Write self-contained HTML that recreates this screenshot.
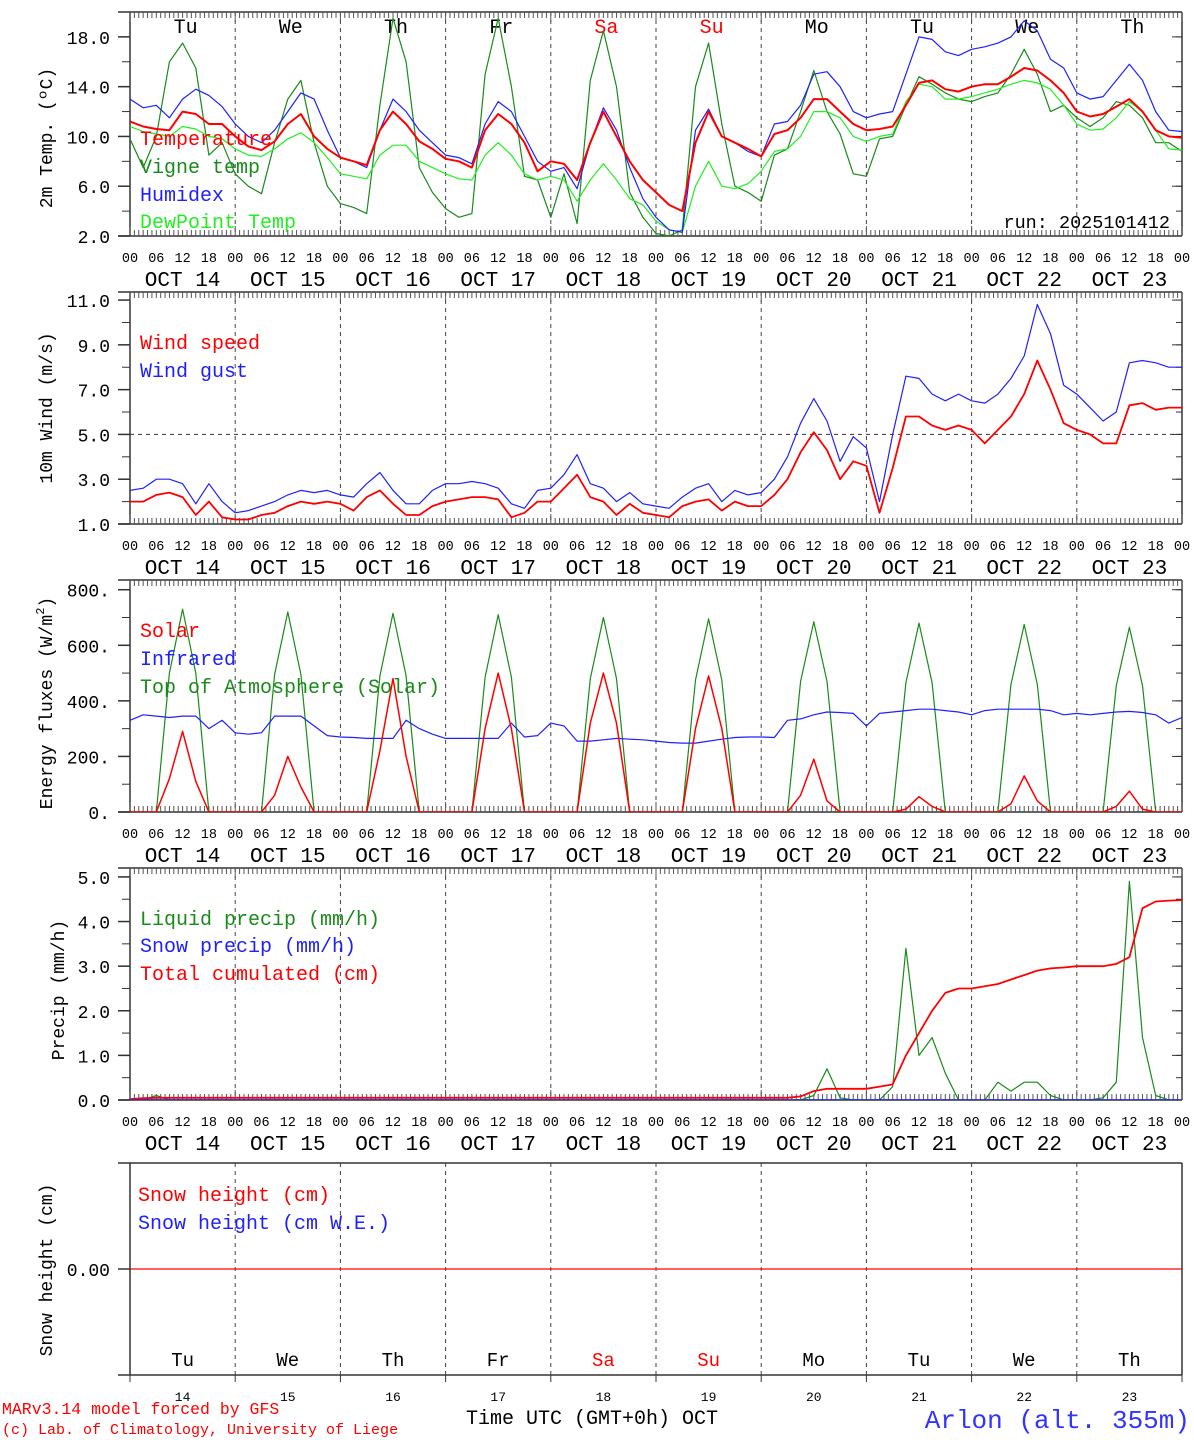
<!DOCTYPE html>
<html><head><meta charset="utf-8"><style>
html,body{margin:0;padding:0;background:#fff;}
svg{display:block;font-family:"Liberation Mono",monospace;}
</style></head><body>
<svg id="chart" width="1194" height="1440" viewBox="0 0 1194 1440" xmlns="http://www.w3.org/2000/svg"></svg>
<script>
// ---- data (3-hourly, 0..240h from Oct 14 00 UTC) ----
const days = ["14","15","16","17","18","19","20","21","22","23"];
const dayNames = ["Tu","We","Th","Fr","Sa","Su","Mo","Tu","We","Th"];
const dayColors = ["#000","#000","#000","#000","#f00","#f00","#000","#000","#000","#000"];
const hourLabels = ["00","06","12","18"];
const tempTicks = [2,6,10,14,18];
const windTicks = [1,3,5,7,9,11];
const fluxTicks = [0,200,400,600,800];
const fluxTickLabels = ["0.","200.","400.","600.","800."];
const precipTicks = [0,1,2,3,4,5];

const temperature = [11.2,10.8,10.6,10.5,12.0,11.8,11.0,11.0, 10.0,9.2,8.9,9.6,11.0,11.8,10.0,9.0, 8.3,8.0,7.7,10.5,12.0,11.0,9.6,9.0, 8.2,8.0,7.5,10.5,11.8,11.0,9.5,7.2, 8.0,7.8,6.5,9.5,12.0,10.0,8.0,6.5, 5.5,4.5,4.0,9.5,12.0,10.0,9.5,9.0, 8.4,10.2,10.5,11.5,13.0,13.0,12.0,11.0, 10.5,10.6,10.8,12.5,14.3,14.5,13.8,13.6, 14.0,14.2,14.2,14.8,15.5,15.3,14.5,13.5, 12.0,11.6,11.8,12.4,13.0,12.0,10.5,10.0,9.9];
const humidex = [13.0,12.3,12.5,11.5,13.0,13.8,13.3,12.4, 11.0,10.0,9.5,10.5,12.0,13.5,13.0,10.5, 8.3,8.0,7.5,10.5,13.0,12.0,10.5,9.5, 8.5,8.3,7.8,11.0,12.8,12.0,10.0,8.0, 7.2,7.5,5.8,9.5,12.3,10.5,7.5,5.0, 3.5,2.5,2.3,10.5,12.2,10.0,9.5,8.8, 8.4,11.0,11.2,12.5,15.0,15.2,14.0,12.0, 11.5,11.8,12.0,15.0,18.0,17.8,16.8,16.5, 17.0,17.2,17.5,18.0,19.3,18.5,16.2,15.5, 13.5,13.0,13.2,14.5,15.8,14.5,12.0,10.5,10.4];
const dewpoint = [10.8,10.4,10.2,10.0,10.8,10.6,10.0,9.8, 9.0,8.5,8.4,9.0,9.8,10.3,9.5,8.3, 7.0,6.8,6.6,8.5,9.3,9.3,8.0,7.5, 7.0,6.6,6.5,8.5,9.5,8.5,7.0,6.5, 6.8,6.5,4.8,6.5,7.8,6.5,5.0,4.5, 3.2,2.5,2.3,6.0,8.0,6.0,5.8,6.2, 7.2,8.8,9.0,10.0,12.0,12.0,11.5,10.0, 9.6,10.0,10.2,12.8,14.2,14.0,13.0,13.0, 13.2,13.5,13.8,14.2,14.5,14.3,13.8,12.5, 11.0,10.5,10.6,11.5,12.8,12.0,10.5,9.0,8.9];
const vigne = [9.8,7.5,10.0,16.0,17.5,15.5,8.5,9.5, 7.0,6.0,5.4,9.5,13.0,14.5,9.5,6.0, 4.6,4.3,3.8,12.5,19.5,16.0,7.5,5.5, 4.2,3.5,3.8,15.0,19.5,14.0,6.8,6.5, 3.5,7.0,3.0,14.5,18.5,14.0,5.5,3.5, 2.2,2.0,2.5,14.0,17.5,11.0,6.0,5.5, 4.8,8.5,9.0,12.0,15.3,12.0,10.2,7.0, 6.8,9.8,10.0,12.5,14.8,14.2,13.5,13.0, 12.8,13.2,13.5,15.0,17.0,15.0,12.0,12.5, 11.5,10.8,11.5,12.8,12.5,11.5,9.5,9.5,8.8];

const windSpeed = [2.0,2.0,2.3,2.4,2.2,1.4,2.0,1.3, 1.2,1.2,1.4,1.5,1.8,2.0,1.9,2.0, 1.9,1.6,2.2,2.5,1.9,1.4,1.4,1.8, 2.0,2.1,2.2,2.2,2.1,1.3,1.5,2.0, 2.0,2.6,3.2,2.2,2.0,1.4,1.9,1.5, 1.4,1.3,1.8,2.0,2.1,1.6,2.0,1.8, 1.8,2.3,3.0,4.2,5.1,4.3,3.0,3.8, 3.6,1.5,3.5,5.8,5.8,5.4,5.2,5.4, 5.2,4.6,5.2,5.8,6.8,8.3,7.0,5.5, 5.2,5.0,4.6,4.6,6.3,6.4,6.1,6.2,6.2];
const windGust = [2.5,2.6,3.0,3.0,2.8,1.9,2.8,2.0, 1.5,1.6,1.8,2.0,2.3,2.5,2.4,2.5, 2.3,2.2,2.8,3.3,2.5,1.9,1.9,2.5, 2.8,2.8,2.9,2.8,2.6,1.9,1.7,2.5, 2.6,3.2,4.1,2.8,2.6,2.0,2.4,1.9, 1.8,1.7,2.2,2.6,2.8,2.0,2.5,2.3, 2.4,3.0,4.0,5.5,6.6,5.6,3.8,4.9, 4.4,2.0,5.0,7.6,7.5,6.8,6.5,6.8, 6.5,6.4,6.8,7.5,8.5,10.8,9.5,7.2, 6.8,6.2,5.6,6.0,8.2,8.3,8.2,8.0,8.0];

const solar = [0,0,0,120,290,110,0,0, 0,0,0,60,200,90,0,0, 0,0,0,220,480,200,0,0, 0,0,0,300,500,300,0,0, 0,0,0,320,500,320,0,0, 0,0,0,300,490,300,0,0, 0,0,0,60,190,40,0,0, 0,0,0,10,55,20,0,0, 0,0,0,30,130,40,0,0, 0,0,0,20,75,10,0,0,0];
const infrared = [330,350,345,340,345,345,300,330, 285,280,285,345,345,345,310,275, 270,268,265,265,265,330,300,280, 265,265,265,265,265,320,270,275, 320,310,255,255,260,265,262,260, 255,250,248,248,255,262,268,270, 270,268,330,335,350,360,358,355, 310,355,360,365,370,370,365,360, 350,365,370,370,370,370,365,350, 355,350,355,360,362,358,350,320,340];
const toa = [0,0,0,500,730,500,0,0, 0,0,0,495,720,495,0,0, 0,0,0,490,715,490,0,0, 0,0,0,485,710,485,0,0, 0,0,0,480,700,480,0,0, 0,0,0,475,695,475,0,0, 0,0,0,470,685,470,0,0, 0,0,0,465,680,465,0,0, 0,0,0,460,675,460,0,0, 0,0,0,455,665,455,0,0,0];

const liquid = [0,0,0.1,0,0,0,0,0, 0,0,0,0,0,0,0,0, 0,0,0,0,0,0,0,0, 0,0,0,0,0,0,0,0, 0,0,0,0,0,0,0,0, 0,0,0,0,0,0,0,0, 0,0,0,0,0.1,0.7,0.05,0, 0,0,0.3,3.4,1.0,1.4,0.6,0, 0,0,0.4,0.2,0.4,0.4,0.1,0, 0,0,0.05,0.4,4.9,1.4,0.1,0,0];
const snowPrecip = [0,0,0,0,0,0,0,0, 0,0,0,0,0,0,0,0, 0,0,0,0,0,0,0,0, 0,0,0,0,0,0,0,0, 0,0,0,0,0,0,0,0, 0,0,0,0,0,0,0,0, 0,0,0,0,0,0,0,0, 0,0,0,0,0,0,0,0, 0,0,0,0,0,0,0,0, 0,0,0,0,0,0,0,0,0];
const cumul = [0.02,0.04,0.05,0.05,0.05,0.05,0.05,0.05, 0.05,0.05,0.05,0.05,0.05,0.05,0.05,0.05, 0.05,0.05,0.05,0.05,0.05,0.05,0.05,0.05, 0.05,0.05,0.05,0.05,0.05,0.05,0.05,0.05, 0.05,0.05,0.05,0.05,0.05,0.05,0.05,0.05, 0.05,0.05,0.05,0.05,0.05,0.05,0.05,0.05, 0.05,0.05,0.05,0.08,0.2,0.25,0.25,0.25, 0.25,0.3,0.35,1.0,1.5,2.0,2.4,2.5, 2.5,2.55,2.6,2.7,2.8,2.9,2.95,2.97, 3.0,3.0,3.0,3.05,3.2,4.3,4.45,4.47,4.48];
const snowHeight = [0,0,0,0,0,0,0,0,0,0,0,0,0,0,0,0,0,0,0,0,0,0,0,0,0,0,0,0,0,0,0,0,0,0,0,0,0,0,0,0,0,0,0,0,0,0,0,0,0,0,0,0,0,0,0,0,0,0,0,0,0,0,0,0,0,0,0,0,0,0,0,0,0,0,0,0,0,0,0,0,0];

// ---- drawing ----
const svg = document.getElementById('chart');
const NS = 'http://www.w3.org/2000/svg';
const X0 = 130, X1 = 1182, DAYW = (X1 - X0) / 10;
function xh(h){ return X0 + h * (X1 - X0) / 240; }
function mk(tag, attrs, parent){ const e = document.createElementNS(NS, tag); for (const k in attrs) e.setAttribute(k, attrs[k]); (parent||svg).appendChild(e); return e; }
function txt(s, x, y, size, fill, anchor, parent){ const t = mk('text', {x:x, y:y, 'font-size':size, fill:fill||'#000', 'text-anchor':anchor||'start'}, parent); t.textContent = s; return t; }

function panel(name, top, bottom, vmin, vmax, ticks, tickLabels, minorStep, hourTicks){
  const g = mk('g', {});
  
  
  const y = v => bottom - (v - vmin) / (vmax - vmin) * (bottom - top);
  mk('line', {x1:118, y1:top, x2:X1, y2:top, stroke:'#333', 'stroke-width':1.5}, g);
  mk('line', {x1:118, y1:bottom, x2:X1, y2:bottom, stroke:'#333', 'stroke-width':1.5}, g);
  mk('line', {x1:X0, y1:top, x2:X0, y2:bottom, stroke:'#333', 'stroke-width':1.5}, g);
  mk('line', {x1:X1, y1:top, x2:X1, y2:bottom, stroke:'#333', 'stroke-width':1.5}, g);
  for (let d = 1; d < 10; d++){
    const dl = mk('line', {x1:X0+d*DAYW, y1:top, x2:X0+d*DAYW, y2:bottom, stroke:'#444', 'stroke-width':1, 'stroke-dasharray':'4,4'}, g);
    
    
  }
  if (hourTicks){
    for (let h = 0; h <= 240; h++){
      const len = (h % 24 === 0) ? 10 : 6;
      mk('line', {x1:xh(h), y1:top, x2:xh(h), y2:top+len, stroke:'#555', 'stroke-width':1}, g);
      mk('line', {x1:xh(h), y1:bottom, x2:xh(h), y2:bottom-len, stroke:'#555', 'stroke-width':1}, g);
    }
    for (let d = 0; d <= 10; d++){
      for (let i = 0; i < 4; i++){
        if (d === 10 && i > 0) break;
        const t = txt(hourLabels[i], xh(d*24 + i*6), bottom + 26, 13.5, '#000', 'middle', g);
        
        
      }
    }
    for (let d = 0; d < 10; d++){
      const t = txt('OCT ' + days[d], X0 + d*DAYW + DAYW/2, bottom + 50, 21, '#000', 'middle', g);
      
      
    }
  }
  if (minorStep){
    for (let v = vmin; v <= vmax + 1e-6; v += minorStep){
      mk('line', {x1:122, y1:y(v), x2:X0, y2:y(v), stroke:'#333', 'stroke-width':1}, g);
      mk('line', {x1:X1-6, y1:y(v), x2:X1, y2:y(v), stroke:'#333', 'stroke-width':1}, g);
    }
  }
  ticks.forEach((v, i) => {
    mk('line', {x1:118, y1:y(v), x2:X0, y2:y(v), stroke:'#333', 'stroke-width':1.5}, g);
    mk('line', {x1:X1-10, y1:y(v), x2:X1, y2:y(v), stroke:'#333', 'stroke-width':1}, g);
    const t = txt(tickLabels[i], 110, y(v) + 7, 18, '#000', 'end', g);
    
    
  });
  return {g:g, y:y, top:top, bottom:bottom};
}

function series(p, arr, color, width, name){
  const clip = 'clip-' + name;
  const cp = mk('clipPath', {id:clip}, p.g);
  mk('rect', {x:X0, y:p.top, width:X1-X0, height:p.bottom-p.top}, cp);
  const pts = arr.map((v, i) => xh(i*3).toFixed(1) + ',' + p.y(v).toFixed(1)).join(' ');
  const pl = mk('polyline', {points:pts, fill:'none', stroke:color, 'stroke-width':width, 'stroke-linejoin':'round', 'clip-path':'url(#'+clip+')'}, p.g);
  
  
}
function legend(p, s, x, y, color){
  const t = txt(s, x, y, 20, color, 'start', p.g);
  
  
}
function ytitle(s, x, y){
  const t = mk('text', {x:0, y:0, 'font-size':18, 'text-anchor':'middle', transform:'translate('+x+','+y+') rotate(-90)'});
  t.textContent = s;
  
  
  return t;
}

// Panel 1: temperature
const p1 = panel('temperature-panel', 12, 236, 2, 20.0, tempTicks, tempTicks.map(v => v.toFixed(1)), 2, true);
for (let d = 0; d < 10; d++){
  const t = txt(dayNames[d], X0 + d*DAYW + DAYW/2 + 3, 33, 20, dayColors[d], 'middle', p1.g);
  
  
}
series(p1, vigne, '#1a8a1a', 1.2, 'vigne-temp-line');
series(p1, dewpoint, '#22ee22', 1.2, 'dewpoint-line');
series(p1, humidex, '#2020ff', 1.2, 'humidex-line');
series(p1, temperature, '#ff0000', 2, 'temperature-line');
legend(p1, 'Temperature', 140, 145, '#ff0000');
legend(p1, 'Vigne temp', 140, 173, '#1a8a1a');
legend(p1, 'Humidex', 140, 201, '#2020ff');
legend(p1, 'DewPoint Temp', 140, 228, '#22ee22');
const run = txt('run: 2025101412', 1170, 228, 18.5, '#000', 'end', p1.g);
 
ytitle('2m Temp. (ºC)', 52, 138);

// Panel 2: wind
const p2 = panel('wind-panel', 292, 524, 1, 11.36, windTicks, windTicks.map(v => v.toFixed(1)), 1, true);
const ref = mk('line', {x1:X0, y1:p2.y(5), x2:X1, y2:p2.y(5), stroke:'#333', 'stroke-width':1, 'stroke-dasharray':'4,4'}, p2.g);
 
series(p2, windGust, '#2020ff', 1.2, 'wind-gust-line');
series(p2, windSpeed, '#ff0000', 1.8, 'wind-speed-line');
legend(p2, 'Wind speed', 140, 349, '#ff0000');
legend(p2, 'Wind gust', 140, 377, '#2020ff');
ytitle('10m Wind (m/s)', 52, 408);

// Panel 3: energy
const p3 = panel('energy-panel', 580, 812, 0, 835, fluxTicks, fluxTickLabels, 100, true);
series(p3, toa, '#1a8a1a', 1.2, 'toa-solar-line');
series(p3, infrared, '#2020ff', 1.2, 'infrared-line');
series(p3, solar, '#ff0000', 1.5, 'solar-line');
legend(p3, 'Solar', 140, 637, '#ff0000');
legend(p3, 'Infrared', 140, 665, '#2020ff');
legend(p3, 'Top of Atmosphere (Solar)', 140, 693, '#1a8a1a');
const et = ytitle('Energy fluxes (W/m', 52, 703);
const sup = mk('tspan', {'font-size':12, dy:-8}, et); sup.textContent = '2';
const cl = mk('tspan', {dy:8}, et); cl.textContent = ')';

// Panel 4: precip
const p4 = panel('precip-panel', 868, 1100, 0, 5.2, precipTicks, precipTicks.map(v => v.toFixed(1)), 0.5, true);
series(p4, liquid, '#1a8a1a', 1.2, 'liquid-precip-line');
series(p4, cumul, '#ff0000', 1.8, 'cumulated-precip-line');
series(p4, snowPrecip, '#2020ff', 1.5, 'snow-precip-line');
legend(p4, 'Liquid precip (mm/h)', 140, 925, '#1a8a1a');
legend(p4, 'Snow precip (mm/h)', 140, 952, '#2020ff');
legend(p4, 'Total cumulated (cm)', 140, 980, '#ff0000');
ytitle('Precip (mm/h)', 64, 990);

// Panel 5: snow height
const p5 = panel('snow-panel', 1163, 1375, -1, 1, [0], ['0.00'], 0, false);
series(p5, snowHeight, '#ff0000', 1.2, 'snow-height-line');
legend(p5, 'Snow height (cm)', 138, 1201, '#ff0000');
legend(p5, 'Snow height (cm W.E.)', 138, 1229, '#2020ff');
ytitle('Snow height (cm)', 52, 1270);
for (let d = 0; d <= 10; d++){
  mk('line', {x1:X0+d*DAYW, y1:1375, x2:X0+d*DAYW, y2:1382, stroke:'#333', 'stroke-width':1}, p5.g);
}
for (let d = 0; d < 10; d++){
  const cx = X0 + d*DAYW + DAYW/2;
  const t = txt(dayNames[d], cx, 1366, 19, dayColors[d], 'middle', p5.g);
  
  
  const n = txt(days[d], cx, 1401, 13, '#000', 'middle', p5.g);
  
  
}

// footer
const f1 = txt('MARv3.14 model forced by GFS', 2, 1414, 16.5, '#ff0000', 'start');
 
const f2 = txt('(c) Lab. of Climatology, University of Liege', 2, 1434, 15, '#ff0000', 'start');
 
const xt = txt('Time UTC (GMT+0h) OCT', 592, 1424, 20, '#000', 'middle');
 
const st = txt('Arlon (alt. 355m)', 1190, 1428, 26, '#3333ff', 'end');
 
</script>
</body></html>
